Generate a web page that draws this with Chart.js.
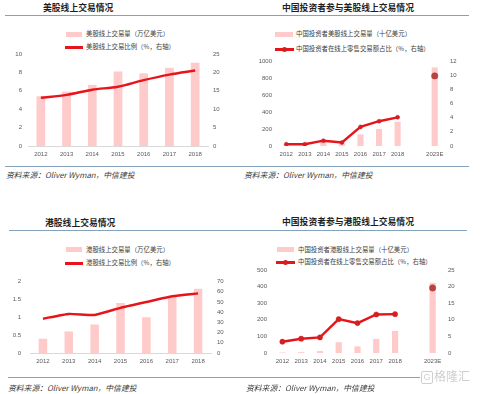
<!DOCTYPE html>
<html lang="zh-CN">
<head>
<meta charset="utf-8">
<title>美股与港股线上交易情况</title>
<script src="https://cdn.jsdelivr.net/npm/chart.js@4.4.1/dist/chart.umd.min.js"></script>
<style>
  html, body { margin: 0; padding: 0; background: #fff; }
  body { width: 480px; height: 394px; position: relative; overflow: hidden;
         font-family: 'Noto Sans CJK SC', 'Liberation Sans', sans-serif; color: #333; }
  .title { position: absolute; font-size: 8.8px; font-weight: bold; line-height: 10px; color: #1f1f1f; white-space: nowrap; }
  .rule { position: absolute; height: 1px; background: #86a2bb; }
  .lg { position: absolute; font-size: 6.4px; line-height: 8px; color: #404040; white-space: nowrap; }
  .sw-bar { position: absolute; height: 5px; background: #ffcaca; }
  .sw-line { position: absolute; height: 2.5px; background: #e8141b; }
  .sw-dot { position: absolute; width: 5px; height: 5px; border-radius: 50%; background: #d02020; }
  .src { position: absolute; font-size: 7.8px; font-style: italic; line-height: 10px; color: #3a3a3a; white-space: nowrap; }
  .wm { position: absolute; left: 421px; top: 369px; font-size: 12px; line-height: 14px; color: #cfcfcf; white-space: nowrap; }
  .wm-g { display: inline-block; width: 10px; height: 11px; line-height: 11px; border: 1px solid #cfcfcf; border-radius: 2px;
          font-size: 9px; text-align: center; margin-right: 1px; vertical-align: 1px; font-family: 'Liberation Sans', sans-serif; }
  canvas { position: absolute; }
</style>
</head>
<body>

<!-- 标题和分隔线 -->
<div class="title" style="left:43px; top:2.5px;">美股线上交易情况</div>
<div class="title" style="left:282px; top:2.5px;">中国投资者参与美股线上交易情况</div>
<div class="title" style="left:45px; top:218px;">港股线上交易情况</div>
<div class="title" style="left:282px; top:217px;">中国投资者参与港股线上交易情况</div>

<div class="rule" style="left:5px; top:15px; width:464px;"></div>
<div class="rule" style="left:5px; top:166px; width:464px;"></div>
<div class="rule" style="left:9px; top:230px; width:458px;"></div>
<div class="rule" style="left:8px; top:377px; width:412px;"></div>

<!-- 图例 -->
<div class="sw-bar" style="left:66px; top:32px; width:16px;"></div>
<div class="lg" style="left:86px; top:30px;">美股线上交易量（万亿美元）</div>
<div class="sw-line" style="left:65px; top:46px; width:18px;"></div>
<div class="lg" style="left:86px; top:43px;">美股线上交易比例（%，右轴）</div>

<div class="sw-bar" style="left:275px; top:32px; width:18px;"></div>
<div class="lg" style="left:296px; top:30px;">中国投资者美股线上交易量（十亿美元）</div>
<div class="sw-line" style="left:275px; top:48px; width:19px;"></div>
<div class="sw-dot" style="left:282px; top:46.5px;"></div>
<div class="lg" style="left:296px; top:45px;">中国投资者在线上零售交易额占比（%，右轴）</div>

<div class="sw-bar" style="left:66px; top:247px; width:16px;"></div>
<div class="lg" style="left:86px; top:245.5px;">港股线上交易量（万亿美元）</div>
<div class="sw-line" style="left:65px; top:262px; width:18px;"></div>
<div class="lg" style="left:86px; top:259px;">港股线上交易比例（%，右轴）</div>

<div class="sw-bar" style="left:277px; top:247px; width:17px;"></div>
<div class="lg" style="left:298px; top:245.5px;">中国投资者港股线上交易量（十亿美元）</div>
<div class="sw-line" style="left:276px; top:261px; width:19px;"></div>
<div class="sw-dot" style="left:283px; top:259.5px;"></div>
<div class="lg" style="left:298px; top:258px;">中国投资者在线上零售交易额占比（%，右轴）</div>

<!-- 图表 -->
<canvas id="us-chart" width="240" height="122" style="left:0; top:44px;"></canvas>
<canvas id="cn-us-chart" width="240" height="122" style="left:240px; top:44px;"></canvas>
<canvas id="hk-chart" width="240" height="104" style="left:0; top:269px;"></canvas>
<canvas id="cn-hk-chart" width="240" height="113" style="left:240px; top:260px;"></canvas>

<!-- 资料来源 -->
<div class="src" style="left:6px; top:170px;">资料来源：Oliver Wyman，中信建投</div>
<div class="src" style="left:244px; top:170px;">资料来源：Oliver Wyman，中信建投</div>
<div class="src" style="left:8px; top:383px;">资料来源：Oliver Wyman，中信建投</div>
<div class="src" style="left:246px; top:383px;">资料来源：Oliver Wyman，中信建投</div>

<div class="wm"><span class="wm-g">G</span>格隆汇</div>

<script>
// === 数据 ===
const years = ['2012', '2013', '2014', '2015', '2016', '2017', '2018'];
const yearsWithForecast = ['2012', '2013', '2014', '2015', '2016', '2017', '2018', '', '2023E'];

// 美股线上交易情况
const usVolume = [5.4, 5.9, 6.65, 8.1, 7.9, 8.5, 9.05];
const usShare = [13.1, 13.9, 15.3, 16.1, 17.9, 19.4, 20.5];
const usLeftTicks = [0, 2, 4, 6, 8, 10];
const usRightTicks = [0, 5, 10, 15, 20, 25];

// 中国投资者参与美股线上交易情况
const cnUsVolume = [5, 8, 55, 30, 137, 200, 286, null, 925];
const cnUsShare = [0.25, 0.25, 0.75, 0.5, 2.7, 3.5, 4.05, null, 9.9];
const cnUsLeftTicks = [0, 200, 400, 600, 800, 1000];
const cnUsRightTicks = [0, 2, 4, 6, 8, 10, 12];

// 港股线上交易情况
const hkVolume = [0.4, 0.6, 0.8, 1.4, 1.0, 1.6, 1.8];
const hkShare = [33.6, 38.3, 37.3, 44.3, 50, 55.6, 58.4];
const hkLeftTicks = [0, 0.5, 1, 1.5, 2];
const hkRightTicks = [0, 10, 20, 30, 40, 50, 60, 70];

// 中国投资者参与港股线上交易情况
const cnHkVolume = [3, 5, 12, 65, 40, 85, 133, null, 423];
const cnHkShare = [3.4, 4.3, 4.7, 10.2, 9.0, 11.6, 11.7, null, 19.6];
const cnHkLeftTicks = [0, 100, 200, 300, 400, 500];
const cnHkRightTicks = [0, 5, 10, 15, 20, 25];

// === 样式 ===
const BAR_PINK = '#ffcaca';
const LINE_RED = '#e8141b';
const TICK_COLOR = '#595959';
const TICK_FONT = { family: "'Liberation Sans', 'Noto Sans CJK SC', sans-serif", size: 6 };

const axisFromTicks = (ticks) => ({
    min: ticks[0],
    max: ticks[ticks.length - 1],
    stepSize: ticks[1] - ticks[0]
});

const makeChart = (id, cfg) => {
    const ctx = document.getElementById(id).getContext('2d');
    const left = axisFromTicks(cfg.leftTicks);
    const right = axisFromTicks(cfg.rightTicks);
    const last = cfg.share.length - 1;

    return new Chart(ctx, {
        data: {
            labels: cfg.labels,
            datasets: [
                {
                    type: 'line',
                    data: cfg.share,
                    yAxisID: 'y1',
                    order: 0,
                    borderColor: LINE_RED,
                    borderWidth: 2.4,
                    tension: cfg.tension,
                    pointRadius: cfg.share.map((v, i) => (i === last && cfg.forecast ? 3.2 : cfg.pointRadius)),
                    pointBackgroundColor: cfg.share.map((v, i) => (i === last && cfg.forecast ? '#b8423f' : '#d42020')),
                    pointBorderColor: cfg.share.map((v, i) => (i === last && cfg.forecast ? '#b8423f' : '#d42020')),
                    pointBorderWidth: 0.5
                },
                {
                    type: 'bar',
                    data: cfg.volume,
                    yAxisID: 'y',
                    order: 1,
                    backgroundColor: BAR_PINK,
                    categoryPercentage: 1,
                    barPercentage: cfg.barPct
                }
            ]
        },
        options: {
            responsive: false,
            animation: false,
            devicePixelRatio: 1,
            layout: { padding: { top: cfg.padTop, left: 0, right: 0, bottom: 0 } },
            plugins: { legend: { display: false }, tooltip: { enabled: false } },
            scales: {
                x: {
                    grid: { display: false, drawTicks: false },
                    border: { display: cfg.baseline, color: '#d9d9d9', width: 1 },
                    ticks: { font: TICK_FONT, color: TICK_COLOR, padding: 5, maxRotation: 0, autoSkip: false },
                    afterFit: (s) => { s.height = 20; }
                },
                y: {
                    position: 'left',
                    min: left.min,
                    max: left.max,
                    grid: { display: false, drawTicks: false },
                    border: { display: false },
                    ticks: { stepSize: left.stepSize, font: TICK_FONT, color: TICK_COLOR, padding: cfg.leftPad, callback: (v) => String(v) },
                    afterFit: (s) => { s.width = cfg.leftW; }
                },
                y1: {
                    position: 'right',
                    min: right.min,
                    max: right.max,
                    grid: { display: false, drawTicks: false },
                    border: { display: false },
                    ticks: { stepSize: right.stepSize, font: TICK_FONT, color: TICK_COLOR, padding: cfg.rightPad, callback: (v) => String(v) },
                    afterFit: (s) => { s.width = cfg.rightW; }
                }
            }
        }
    });
};

// === 绘制 ===
makeChart('us-chart', {
    labels: years, volume: usVolume, share: usShare,
    leftTicks: usLeftTicks, rightTicks: usRightTicks,
    padTop: 10, leftW: 28, rightW: 32, leftPad: 6, rightPad: 5,
    tension: 0.3, pointRadius: 0, forecast: false, baseline: true, barPct: 0.34
});

makeChart('cn-us-chart', {
    labels: yearsWithForecast, volume: cnUsVolume, share: cnUsShare,
    leftTicks: cnUsLeftTicks, rightTicks: cnUsRightTicks,
    padTop: 17, leftW: 37, rightW: 36, leftPad: 5, rightPad: 6,
    tension: 0, pointRadius: 2, forecast: true, baseline: false, barPct: 0.33
});

makeChart('hk-chart', {
    labels: years, volume: hkVolume, share: hkShare,
    leftTicks: hkLeftTicks, rightTicks: hkRightTicks,
    padTop: 10, leftW: 30, rightW: 29, leftPad: 9, rightPad: 6,
    tension: 0.15, pointRadius: 0, forecast: false, baseline: true, barPct: 0.33
});

makeChart('cn-hk-chart', {
    labels: yearsWithForecast, volume: cnHkVolume, share: cnHkShare,
    leftTicks: cnHkLeftTicks, rightTicks: cnHkRightTicks,
    padTop: 10, leftW: 33, rightW: 38, leftPad: 6, rightPad: 6,
    tension: 0, pointRadius: 2.6, forecast: true, baseline: false, barPct: 0.33
});
</script>
</body>
</html>
